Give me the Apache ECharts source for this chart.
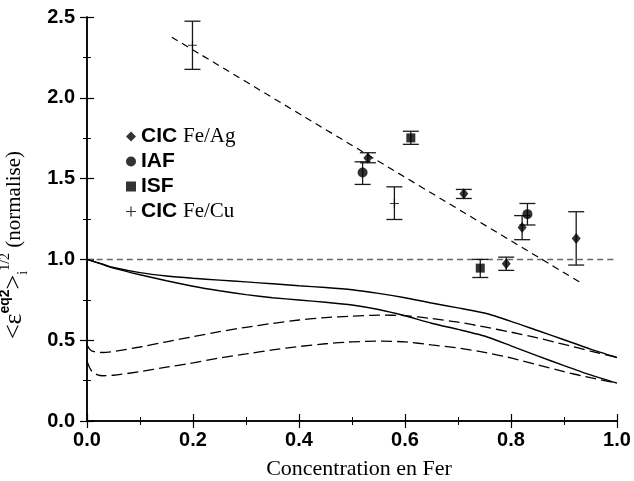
<!DOCTYPE html>
<html>
<head>
<meta charset="utf-8">
<script src="https://cdn.jsdelivr.net/npm/echarts@6/dist/echarts.min.js"></script>
<style>html,body{margin:0;padding:0;background:#fff}#c{width:634px;height:481px}</style>
</head>
<body>
<div id="c"></div>
<script>
// CIC Fe/Ag
const agX = [0.530, 0.711, 0.791, 0.821, 0.923];
const agY = [1.627, 1.406, 0.973, 1.197, 1.13];
const agLo = [1.598, 1.377, 0.932, 1.122, 0.965];
const agHi = [1.660, 1.433, 1.014, 1.271, 1.295];
// IAF
const iafX = [0.520, 0.831];
const iafY = [1.538, 1.280];
const iafLo = [1.464, 1.213];
const iafHi = [1.604, 1.346];
// ISF
const isfX = [0.611, 0.742];
const isfY = [1.752, 0.946];
const isfLo = [1.712, 0.888];
const isfHi = [1.793, 1.000];
// CIC Fe/Cu
const cuX = [0.199, 0.580];
const cuY = [2.325, 1.346];
const cuLo = [2.176, 1.247];
const cuHi = [2.474, 1.449];
// fit line and reference line
const fitX = [0.16, 0.929];
const fitY = [2.375, 0.861];
const refX = [0, 1];
const refY = [1, 1];
// theory curves
const curveX = [0, 0.005, 0.01, 0.02, 0.03, 0.05, 0.1, 0.15, 0.2, 0.25, 0.3, 0.35, 0.4, 0.45, 0.5, 0.55, 0.6, 0.65, 0.7, 0.75, 0.8, 0.85, 0.9, 0.95, 1.0];
const solid1 = [1.0, 0.995, 0.99, 0.98, 0.97, 0.95, 0.918, 0.897, 0.883, 0.872, 0.861, 0.849, 0.837, 0.826, 0.812, 0.79, 0.763, 0.730, 0.70, 0.668, 0.617, 0.560, 0.503, 0.445, 0.393];
const solid2 = [1.0, 0.995, 0.99, 0.979, 0.968, 0.946, 0.905, 0.868, 0.834, 0.806, 0.782, 0.763, 0.749, 0.735, 0.718, 0.69, 0.651, 0.605, 0.567, 0.526, 0.465, 0.403, 0.343, 0.285, 0.234];
const dash1 = [0.47, 0.445, 0.432, 0.425, 0.424, 0.43, 0.458, 0.49, 0.522, 0.553, 0.58, 0.604, 0.625, 0.64, 0.649, 0.655, 0.652, 0.634, 0.612, 0.582, 0.55, 0.514, 0.474, 0.433, 0.393];
const dash2 = [0.37, 0.33, 0.305, 0.285, 0.28, 0.283, 0.305, 0.333, 0.36, 0.39, 0.415, 0.44, 0.461, 0.478, 0.49, 0.494, 0.49, 0.471, 0.452, 0.425, 0.39, 0.348, 0.305, 0.268, 0.234];
// ticks
const xTicks = [0, 0.2, 0.4, 0.6, 0.8, 1.0];
const yTicks = [0, 0.5, 1.0, 1.5, 2.0, 2.5];

const zip = (a, b) => a.map((v, i) => [v, b[i]]);
const zip3 = (a, b, c) => a.map((v, i) => [v, b[i], c[i]]);

function errRender(params, api) {
  const x = api.value(0), lo = api.value(1), hi = api.value(2);
  const p1 = api.coord([x, lo]), p2 = api.coord([x, hi]);
  const w = 8;
  const st = { stroke: '#1a1a1a', lineWidth: 1.3 };
  return {
    type: 'group',
    children: [
      { type: 'line', shape: { x1: p1[0], y1: p1[1], x2: p2[0], y2: p2[1] }, style: st },
      { type: 'line', shape: { x1: p1[0] - w, y1: p1[1], x2: p1[0] + w, y2: p1[1] }, style: st },
      { type: 'line', shape: { x1: p2[0] - w, y1: p2[1], x2: p2[0] + w, y2: p2[1] }, style: st }
    ]
  };
}
function errSeries(name, x, lo, hi) {
  return { name: name, type: 'custom', renderItem: errRender, data: zip3(x, lo, hi), encode: { x: 0, y: [1, 2] }, z: 3, silent: true };
}
function lineSeries(x, y, type, width, color, dash) {
  return { type: 'line', data: zip(x, y), showSymbol: false, symbol: 'none', smooth: 0.2,
    lineStyle: { color: color || '#000', width: width, type: dash ? dash : type }, z: 2, silent: true };
}

const plusPath = 'path://M0,4.4H10V5.6H0Z M4.4,0H5.6V10H4.4Z';
const axisCommon = {
  type: 'value', min: 0,
  axisLine: { show: true, lineStyle: { color: '#000', width: 1.5 } },
  axisTick: { show: true, inside: true, length: 7, lineStyle: { color: '#000', width: 1.2 } },
  minorTick: { show: true, splitNumber: 2, length: 4, lineStyle: { color: '#000', width: 1 } },
  splitLine: { show: false },
  minorSplitLine: { show: false }
};
const labelStyle = { fontFamily: 'Liberation Sans', fontWeight: 'bold', fontSize: 20, color: '#000' };

const chart = echarts.init(document.getElementById('c'));
chart.setOption({
  backgroundColor: '#fff',
  animation: false,
  grid: { left: 87, right: 17, top: 17, bottom: 60, outerBoundsMode: 'none', containLabel: false },
  legend: {
    orient: 'vertical', left: 121, top: 121, itemGap: 4, itemWidth: 10, itemHeight: 10,
    data: ['CIC Fe/Ag', 'IAF', 'ISF', 'CIC Fe/Cu'],
    formatter: function (name) {
      const p = name.split(' ');
      return p.length > 1 ? '{b|' + p[0] + '} {s|' + p[1] + '}' : '{b|' + name + '}';
    },
    textStyle: {
      fontSize: 21, color: '#000',
      rich: {
        b: { fontFamily: 'Liberation Sans', fontWeight: 'bold', fontSize: 21, lineHeight: 21, color: '#000' },
        s: { fontFamily: 'Liberation Serif', fontSize: 21, lineHeight: 21, color: '#000' }
      }
    }
  },
  xAxis: [
    Object.assign({}, axisCommon, {
      max: 1, interval: 0.2, position: 'bottom',
      axisLabel: Object.assign({ margin: 9, formatter: v => xTicks.includes(+v.toFixed(1)) ? v.toFixed(1) : '' }, labelStyle),
      name: 'Concentration en Fer', nameLocation: 'middle', nameGap: 37,
      nameTextStyle: { fontFamily: 'Liberation Serif', fontSize: 22, color: '#000', padding: [0, 0, 0, 14] }
    }),
    Object.assign({}, axisCommon, { max: 1, interval: 0.2, position: 'top', axisLabel: { show: false } })
  ],
  yAxis: [
    Object.assign({}, axisCommon, {
      max: 2.5, interval: 0.5, position: 'left',
      axisLabel: Object.assign({ margin: 12, formatter: v => yTicks.includes(+v.toFixed(1)) ? v.toFixed(1) : '' }, labelStyle),
      name: '{m|<ε}{sup|eq2}{m|>}{sub|i}{sup2|1/2}{t| (normalise)}',
      nameLocation: 'middle', nameGap: 57, nameRotate: 90,
      nameTextStyle: {
        color: '#000', padding: [0, 52, 0, 0],
        rich: {
          m: { fontFamily: 'Liberation Serif', fontSize: 26, lineHeight: 32, color: '#000' },
          t: { fontFamily: 'Liberation Serif', fontSize: 21, lineHeight: 32, color: '#000' },
          sup: { fontFamily: 'Liberation Sans', fontWeight: 'bold', fontSize: 14, lineHeight: 14, verticalAlign: 'top', color: '#000' },
          sub: { fontFamily: 'Liberation Serif', fontSize: 14, lineHeight: 14, verticalAlign: 'bottom', color: '#000' },
          sup2: { fontFamily: 'Liberation Serif', fontSize: 14, lineHeight: 14, verticalAlign: 'top', color: '#000' }
        }
      }
    }),
    Object.assign({}, axisCommon, { max: 2.5, interval: 0.5, position: 'right', axisLabel: { show: false } })
  ],
  series: [
    lineSeries(refX, refY, 'dashed', 1.5, '#666', [6, 4]),
    lineSeries(fitX, fitY, 'dashed', 1.2, '#000', [7, 5]),
    lineSeries(curveX, solid1, 'solid', 1.4, '#000'),
    lineSeries(curveX, solid2, 'solid', 1.4, '#000'),
    lineSeries(curveX, dash1, 'dashed', 1.3, '#000', [11, 5]),
    lineSeries(curveX, dash2, 'dashed', 1.3, '#000', [11, 5]),
    errSeries('errAg', agX, agLo, agHi),
    errSeries('errIAF', iafX, iafLo, iafHi),
    errSeries('errISF', isfX, isfLo, isfHi),
    errSeries('errCu', cuX, cuLo, cuHi),
    { name: 'CIC Fe/Ag', type: 'scatter', data: zip(agX, agY), symbol: 'diamond', symbolSize: [9, 11], itemStyle: { color: '#000' }, z: 5 },
    { name: 'IAF', type: 'scatter', data: zip(iafX, iafY), symbol: 'circle', symbolSize: 10, itemStyle: { color: '#000' }, z: 5 },
    { name: 'ISF', type: 'scatter', data: zip(isfX, isfY), symbol: 'rect', symbolSize: 9, itemStyle: { color: '#000' }, z: 5 },
    { name: 'CIC Fe/Cu', type: 'scatter', data: zip(cuX, cuY), symbol: plusPath, symbolSize: 9, itemStyle: { color: '#000' }, z: 5 }
  ]
});
</script>
</body>
</html>
